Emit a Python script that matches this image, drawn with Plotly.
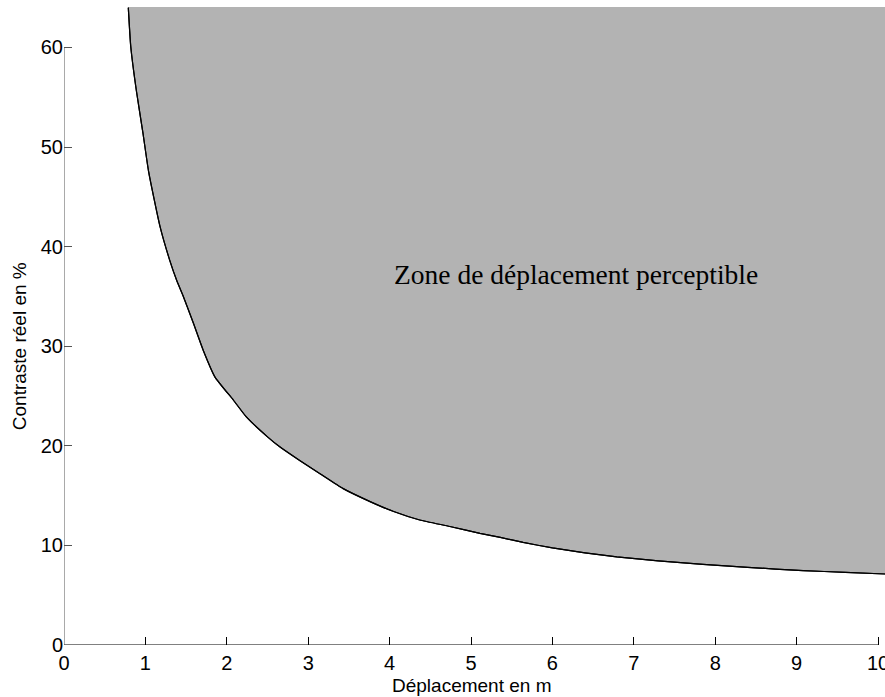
import plotly.graph_objects as go

# Threshold curve: displacement (m) vs. real contrast (%)
deplacement = [0.79, 0.82, 0.89, 0.97, 1.04, 1.18, 1.30, 1.385, 1.466, 1.59,
               1.71, 1.855, 2.08, 2.24, 2.50, 2.65, 2.90, 3.145, 3.43, 3.76,
               4.05, 4.37, 4.74, 5.11, 5.36, 5.64, 6.00, 6.40, 6.79, 7.30,
               7.85, 8.40, 9.08, 9.60, 10.09]
contraste = [64.0, 60.1, 55.6, 51.4, 47.5, 42.0, 38.6, 36.6, 35.0, 32.3,
             29.6, 26.9, 24.6, 22.9, 20.9, 19.9, 18.5, 17.2, 15.7, 14.4,
             13.4, 12.55, 11.9, 11.2, 10.8, 10.3, 9.75, 9.25, 8.85, 8.45,
             8.1, 7.8, 7.46, 7.3, 7.13]

x_ticks = [0, 1, 2, 3, 4, 5, 6, 7, 8, 9, 10]
y_ticks = [0, 10, 20, 30, 40, 50, 60]

X_MAX = 10.086
Y_MAX = 64.06

zone_label = "Zone de déplacement perceptible"
x_title = "Déplacement en m"
y_title = "Contraste réel en %"

curve_line = dict(color="black", width=1.2, shape="spline", smoothing=0.5)

fig = go.Figure()

# lower boundary (the threshold curve)
fig.add_trace(go.Scatter(
    x=deplacement, y=contraste, mode="lines", line=curve_line,
    showlegend=False, hoverinfo="skip"))

# shaded perceptible zone above the curve
fig.add_trace(go.Scatter(
    x=deplacement, y=[Y_MAX] * len(deplacement), mode="lines",
    line=dict(width=0, color="rgba(0,0,0,0)"), fill="tonexty",
    fillcolor="#b3b3b3", showlegend=False, hoverinfo="skip"))

# redraw the curve on top of the fill
fig.add_trace(go.Scatter(
    x=deplacement, y=contraste, mode="lines", line=curve_line,
    showlegend=False, hoverinfo="skip"))

fig.add_annotation(
    x=6.29, y=37.2, text=zone_label, showarrow=False,
    font=dict(family="Liberation Serif", size=27.5, color="black"),
    xanchor="center", yanchor="middle")

title_font = dict(family="Liberation Sans", size=19, color="black")

# axis titles, centred on the tick span
fig.add_annotation(
    x=(x_ticks[0] + x_ticks[-1]) / 2, xref="x", y=-0.064, yref="paper",
    text=x_title, showarrow=False, font=title_font,
    xanchor="center", yanchor="middle")
fig.add_annotation(
    x=-0.0548, xref="paper", y=(y_ticks[0] + y_ticks[-1]) / 2, yref="y",
    text=y_title, showarrow=False, font=title_font, textangle=-90,
    xanchor="center", yanchor="middle")

# axis lines limited to the tick span
fig.add_shape(type="line", xref="x", yref="y", x0=0, x1=x_ticks[-1], y0=0, y1=0,
              line=dict(color="black", width=1))
fig.add_shape(type="line", xref="x", yref="y", x0=0, x1=0, y0=0, y1=y_ticks[-1],
              line=dict(color="#555555", width=1))

axis_font = dict(family="Liberation Sans", size=20, color="black")

fig.update_layout(
    width=885, height=697,
    margin=dict(l=64, r=0, t=7, b=52),
    paper_bgcolor="white", plot_bgcolor="white",
    xaxis=dict(
        range=[0, X_MAX], tickvals=x_ticks, ticktext=[str(v) for v in x_ticks],
        ticks="inside", ticklen=8, tickcolor="black", tickwidth=1,
        showgrid=False, zeroline=False, showline=False,
        tickfont=axis_font, ticklabelstandoff=4, ticklabeloverflow="allow",
        automargin=False),
    yaxis=dict(
        range=[0, Y_MAX], tickvals=y_ticks, ticktext=[str(v) for v in y_ticks],
        ticks="inside", ticklen=8, tickcolor="#555555", tickwidth=1,
        showgrid=False, zeroline=False, showline=False,
        tickfont=axis_font, ticklabeloverflow="allow",
        automargin=False),
)

fig.write_html("out.html")
